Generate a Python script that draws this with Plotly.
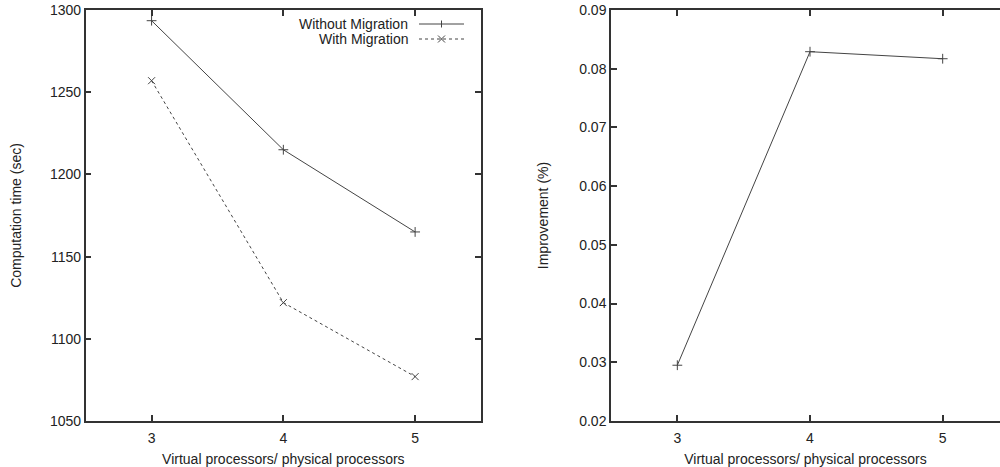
import plotly.graph_objects as go

# ---- data ----
ratio = [3, 4, 5]
without_migration = [1293.5, 1215, 1165]
with_migration = [1257, 1122, 1077]
improvement = [0.0295, 0.0829, 0.0817]

left_yticks = [1050, 1100, 1150, 1200, 1250, 1300]
right_yticks = [0.02, 0.03, 0.04, 0.05, 0.06, 0.07, 0.08, 0.09]
xticks = [3, 4, 5]

LINE = "#444444"
AX = "#333333"
FONT = dict(family="Liberation Sans, Arial, sans-serif", size=14, color="#222222")

fig = go.Figure()

fig.add_trace(go.Scatter(
    x=ratio, y=without_migration, mode="lines+markers", name="Without Migration",
    line=dict(color=LINE, width=1),
    marker=dict(symbol="cross-thin-open", size=7, line=dict(color=LINE, width=1), color=LINE),
    xaxis="x", yaxis="y", showlegend=False))
fig.add_trace(go.Scatter(
    x=ratio, y=with_migration, mode="lines+markers", name="With Migration",
    line=dict(color=LINE, width=1, dash="3px,3px"),
    marker=dict(symbol="x-thin-open", size=7, line=dict(color=LINE, width=1), color=LINE),
    xaxis="x", yaxis="y", showlegend=False))
fig.add_trace(go.Scatter(
    x=ratio, y=improvement, mode="lines+markers", name="Improvement",
    line=dict(color=LINE, width=1),
    marker=dict(symbol="cross-thin-open", size=7, line=dict(color=LINE, width=1), color=LINE),
    xaxis="x2", yaxis="y2", showlegend=False))

ytop = 1 - 10 / 467
ybot = 1 - 421 / 467

common_axis = dict(showline=True, linecolor=AX, linewidth=1.5, ticks="inside",
                   ticklen=6, tickwidth=1.5, tickcolor=AX, showgrid=False,
                   zeroline=False, tickfont=FONT, title_font=FONT, automargin=False)

fig.update_layout(
    width=1000, height=467,
    margin=dict(l=0, r=0, t=0, b=0),
    paper_bgcolor="white", plot_bgcolor="white",
    font=FONT,
    xaxis=dict(common_axis, domain=[0.0857, 0.481], range=[2.5, 5.5],
               tickvals=xticks, mirror="ticks", anchor="y", ticklabelstandoff=3,
               title=dict(text="Virtual processors/ physical processors", standoff=10)),
    yaxis=dict(common_axis, domain=[ybot, ytop], range=[1050, 1300],
               tickvals=left_yticks, mirror="ticks", anchor="x",
               title=dict(text="Computation time (sec)", standoff=25)),
    xaxis2=dict(common_axis, domain=[0.611, 1.0], range=[2.5, 5.432],
                tickvals=xticks, mirror="ticks", anchor="y2", ticklabelstandoff=3,
                title=dict(text="Virtual processors/ physical processors", standoff=10)),
    yaxis2=dict(common_axis, domain=[ybot, ytop], range=[0.02, 0.09],
                tickvals=right_yticks, tickformat=".2f", mirror=False, anchor="x2",
                title=dict(text="Improvement (%)", standoff=27)),
)

# ---- legend drawn gnuplot-style (text left, key right) ----
legend_rows = [("Without Migration", "solid", "plus"), ("With Migration", "dash", "x")]
for i, (label, dash, sym) in enumerate(legend_rows):
    ypx = 24 + 15 * i
    yp = 1 - ypx / 467
    fig.add_annotation(x=0.410, y=yp, xref="paper", yref="paper", text=label,
                       showarrow=False, xanchor="right", yanchor="middle", font=FONT)
    fig.add_shape(type="line", xref="paper", yref="paper", x0=0.419, x1=0.464, y0=yp, y1=yp,
                  line=dict(color=LINE, width=1, dash="3px,3px" if dash == "dash" else "solid"))
    cx = 0.4415
    h = 3.5
    if sym == "plus":
        fig.add_shape(type="line", xref="paper", yref="paper", x0=cx, x1=cx,
                      y0=yp - h / 467, y1=yp + h / 467, line=dict(color=LINE, width=1))
    else:
        fig.add_shape(type="line", xref="paper", yref="paper", x0=cx - 3.5 / 1000, x1=cx + 3.5 / 1000,
                      y0=yp - 3.5 / 467, y1=yp + 3.5 / 467, line=dict(color=LINE, width=1))
        fig.add_shape(type="line", xref="paper", yref="paper", x0=cx - 3.5 / 1000, x1=cx + 3.5 / 1000,
                      y0=yp + 3.5 / 467, y1=yp - 3.5 / 467, line=dict(color=LINE, width=1))

fig.write_html("out.html", config={"displayModeBar": False},
               post_script="document.body.style.margin='0';")
